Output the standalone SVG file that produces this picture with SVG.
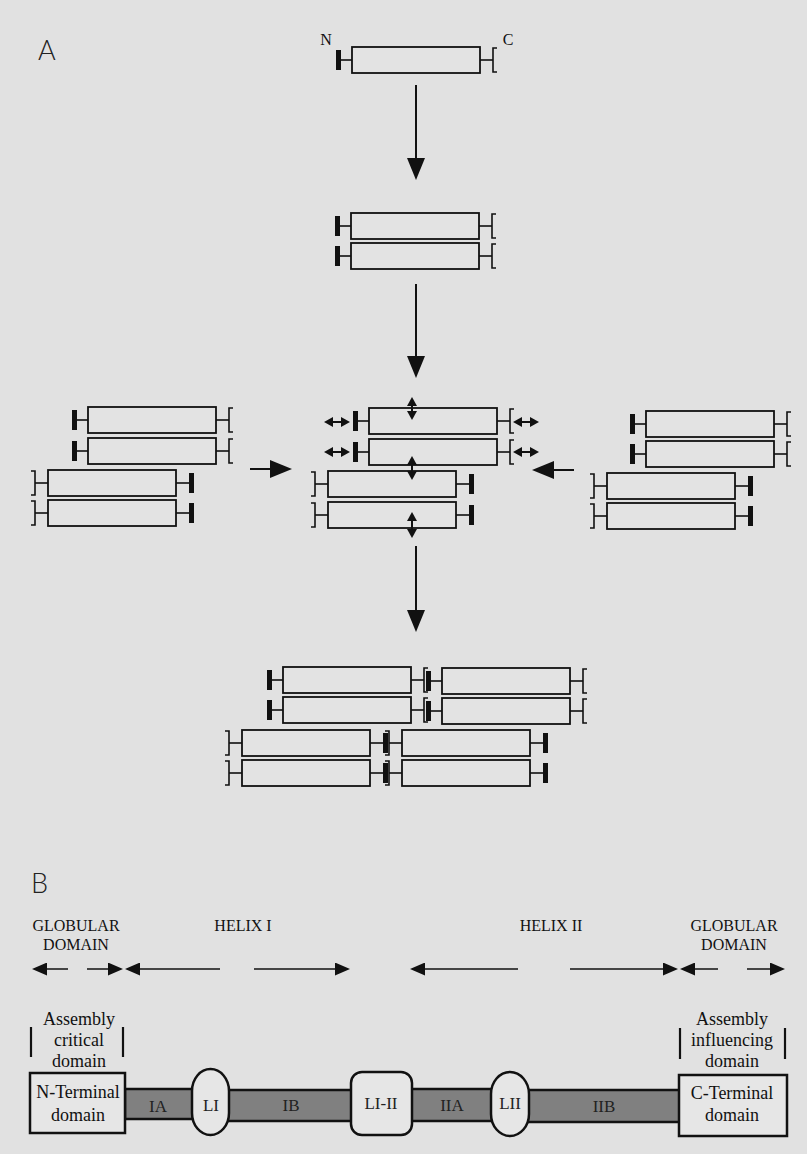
<svg xmlns="http://www.w3.org/2000/svg" xmlns:xlink="http://www.w3.org/1999/xlink" width="807" height="1154" viewBox="0 0 807 1154">
<style>
.bg{fill:#e1e1e1}
.box{fill:#e3e3e3;stroke:#111;stroke-width:1.8}
.ln{stroke:#111;stroke-width:1.6;fill:none}
.bar{fill:#111}
.arr{stroke:#111;stroke-width:2;fill:none}
.barr{stroke:#111;stroke-width:1.6;fill:none}
.panel{font-family:"Lato","Liberation Sans",sans-serif;font-weight:300;font-size:27px;fill:#222}
.lbl{font-family:"Liberation Serif",serif;font-size:16px;fill:#111;text-anchor:middle}
.big{font-family:"Liberation Serif",serif;font-size:18px;fill:#111;text-anchor:middle}
.seg{fill:#808080;stroke:#111;stroke-width:2.5}
.loop{fill:#e6e6e6;stroke:#111;stroke-width:2.5}
.dom{fill:#e6e6e6;stroke:#111;stroke-width:2.5}
.inl{font-family:"Liberation Serif",serif;font-size:17px;fill:#222;text-anchor:middle}
</style>
<defs>
<marker id="bigHead" markerWidth="22" markerHeight="18" refX="19" refY="9" orient="auto" markerUnits="userSpaceOnUse"><path d="M0,0 L22,9 L0,18 z" fill="#111"/></marker>
<marker id="smHead" markerWidth="9" markerHeight="10" refX="7" refY="5" orient="auto-start-reverse" markerUnits="userSpaceOnUse"><path d="M0,0 L9,5 L0,10 z" fill="#111"/></marker>
<marker id="bHead" markerWidth="15" markerHeight="13" refX="12" refY="6.5" orient="auto" markerUnits="userSpaceOnUse"><path d="M0,0 L15,6.5 L0,13 z" fill="#111"/></marker>
<g id="molF">
<rect class="bar" x="0" y="3" width="5" height="20"/>
<line class="ln" x1="5" y1="13" x2="16" y2="13"/>
<rect class="box" x="16" y="0" width="128" height="26"/>
<line class="ln" x1="144" y1="13" x2="157" y2="13"/>
<path class="ln" d="M161,1 H157 V25 H161"/>
</g>
<g id="molR">
<path class="ln" d="M0,1 H4 V25 H0"/>
<line class="ln" x1="4" y1="13" x2="17" y2="13"/>
<rect class="box" x="17" y="0" width="128" height="26"/>
<line class="ln" x1="145" y1="13" x2="158" y2="13"/>
<rect class="bar" x="158" y="3" width="5" height="20"/>
</g>
</defs>
<rect class="bg" x="0" y="0" width="807" height="1154"/>

<text class="panel" x="38" y="60">A</text>
<text class="panel" x="31" y="893">B</text>

<!-- Panel A nodes -->
<g id="monomer">
<text class="lbl" x="326" y="45">N</text>
<text class="lbl" x="508" y="45">C</text>
<use xlink:href="#molF" x="336" y="47"/>
</g>
<g id="dimer">
<use xlink:href="#molF" x="335" y="213"/>
<use xlink:href="#molF" x="335" y="243"/>
</g>
<g id="left-tetramer">
<use xlink:href="#molF" x="72" y="407"/>
<use xlink:href="#molF" x="72" y="438"/>
<use xlink:href="#molR" x="31" y="470"/>
<use xlink:href="#molR" x="31" y="500"/>
</g>
<g id="center-tetramer">
<use xlink:href="#molF" x="353" y="408"/>
<use xlink:href="#molF" x="353" y="439"/>
<use xlink:href="#molR" x="311" y="471"/>
<use xlink:href="#molR" x="311" y="502"/>
</g>
<g id="right-tetramer">
<use xlink:href="#molF" x="630" y="411"/>
<use xlink:href="#molF" x="630" y="441"/>
<use xlink:href="#molR" x="590" y="473"/>
<use xlink:href="#molR" x="590" y="503"/>
</g>
<g id="octamer">
<use xlink:href="#molF" x="267" y="667"/>
<use xlink:href="#molF" x="426" y="668"/>
<use xlink:href="#molF" x="267" y="697"/>
<use xlink:href="#molF" x="426" y="698"/>
<use xlink:href="#molR" x="225" y="730"/>
<use xlink:href="#molR" x="385" y="730"/>
<use xlink:href="#molR" x="225" y="760"/>
<use xlink:href="#molR" x="385" y="760"/>
</g>

<!-- Panel A connectors -->
<g id="connectors-A">
<line class="arr" x1="416" y1="85" x2="416" y2="177" marker-end="url(#bigHead)"/>
<line class="arr" x1="416" y1="284" x2="416" y2="375" marker-end="url(#bigHead)"/>
<line class="arr" x1="416" y1="546" x2="416" y2="629" marker-end="url(#bigHead)"/>
<line class="arr" x1="250" y1="469" x2="289" y2="469" marker-end="url(#bigHead)"/>
<line class="arr" x1="574" y1="470" x2="535" y2="470" marker-end="url(#bigHead)"/>
<line class="arr" x1="326" y1="422" x2="348" y2="422" marker-start="url(#smHead)" marker-end="url(#smHead)"/>
<line class="arr" x1="326" y1="452" x2="348" y2="452" marker-start="url(#smHead)" marker-end="url(#smHead)"/>
<line class="arr" x1="515" y1="422" x2="537" y2="422" marker-start="url(#smHead)" marker-end="url(#smHead)"/>
<line class="arr" x1="515" y1="452" x2="537" y2="452" marker-start="url(#smHead)" marker-end="url(#smHead)"/>
<line class="arr" x1="412" y1="399" x2="412" y2="418" marker-start="url(#smHead)" marker-end="url(#smHead)"/>
<line class="arr" x1="412" y1="458" x2="412" y2="478" marker-start="url(#smHead)" marker-end="url(#smHead)"/>
<line class="arr" x1="412" y1="514" x2="412" y2="536" marker-start="url(#smHead)" marker-end="url(#smHead)"/>
</g>

<!-- Panel B labels -->
<g id="label-globular-left">
<text class="lbl" x="76" y="931">GLOBULAR</text>
<text class="lbl" x="76" y="950">DOMAIN</text>
</g>
<g id="label-helix-1"><text class="lbl" x="243" y="931">HELIX I</text></g>
<g id="label-helix-2"><text class="lbl" x="551" y="931">HELIX II</text></g>
<g id="label-globular-right">
<text class="lbl" x="734" y="931">GLOBULAR</text>
<text class="lbl" x="734" y="950">DOMAIN</text>
</g>

<g id="connectors-B">
<line class="barr" x1="68" y1="969" x2="35" y2="969" marker-end="url(#bHead)"/>
<line class="barr" x1="87" y1="969" x2="120" y2="969" marker-end="url(#bHead)"/>
<line class="barr" x1="220" y1="969" x2="128" y2="969" marker-end="url(#bHead)"/>
<line class="barr" x1="254" y1="969" x2="347" y2="969" marker-end="url(#bHead)"/>
<line class="barr" x1="518" y1="969" x2="413" y2="969" marker-end="url(#bHead)"/>
<line class="barr" x1="570" y1="969" x2="675" y2="969" marker-end="url(#bHead)"/>
<line class="barr" x1="718" y1="969" x2="683" y2="969" marker-end="url(#bHead)"/>
<line class="barr" x1="747" y1="969" x2="782" y2="969" marker-end="url(#bHead)"/>
</g>

<g id="assembly-critical">
<line class="ln" x1="31" y1="1027" x2="31" y2="1057" style="stroke-width:2.2"/>
<line class="ln" x1="123" y1="1027" x2="123" y2="1057" style="stroke-width:2.2"/>
<text class="big" x="79" y="1025">Assembly</text>
<text class="big" x="79" y="1046">critical</text>
<text class="big" x="79" y="1067">domain</text>
</g>
<g id="assembly-influencing">
<line class="ln" x1="680" y1="1028" x2="680" y2="1059" style="stroke-width:2.2"/>
<line class="ln" x1="785" y1="1028" x2="785" y2="1059" style="stroke-width:2.2"/>
<text class="big" x="732" y="1025">Assembly</text>
<text class="big" x="732" y="1046">influencing</text>
<text class="big" x="732" y="1067">domain</text>
</g>

<g id="seg-IA"><rect class="seg" x="125" y="1089" width="69" height="30"/><text class="inl" x="158" y="1112">IA</text></g>
<g id="seg-IB"><rect class="seg" x="227" y="1090" width="126" height="31"/><text class="inl" x="291" y="1111">IB</text></g>
<g id="seg-IIA"><rect class="seg" x="410" y="1089" width="83" height="32"/><text class="inl" x="452" y="1111">IIA</text></g>
<g id="seg-IIB"><rect class="seg" x="527" y="1090" width="153" height="32"/><text class="inl" x="604" y="1112">IIB</text></g>

<g id="N-terminal"><rect class="dom" x="30" y="1073" width="95" height="60"/>
<text class="big" x="78" y="1098">N-Terminal</text><text class="big" x="78" y="1121">domain</text></g>
<g id="loop-LI"><rect class="loop" x="192" y="1069" width="37" height="66" rx="18.5" ry="22"/><text class="inl" x="211" y="1111">LI</text></g>
<g id="loop-LI-II"><rect class="loop" x="351" y="1072" width="61" height="63" rx="11"/><text class="inl" x="381" y="1109">LI-II</text></g>
<g id="loop-LII"><rect class="loop" x="491" y="1072" width="38" height="64" rx="19" ry="22"/><text class="inl" x="510" y="1109">LII</text></g>
<g id="C-terminal"><rect class="dom" x="679" y="1075" width="108" height="61"/>
<text class="big" x="732" y="1099">C-Terminal</text><text class="big" x="732" y="1121">domain</text></g>
</svg>
